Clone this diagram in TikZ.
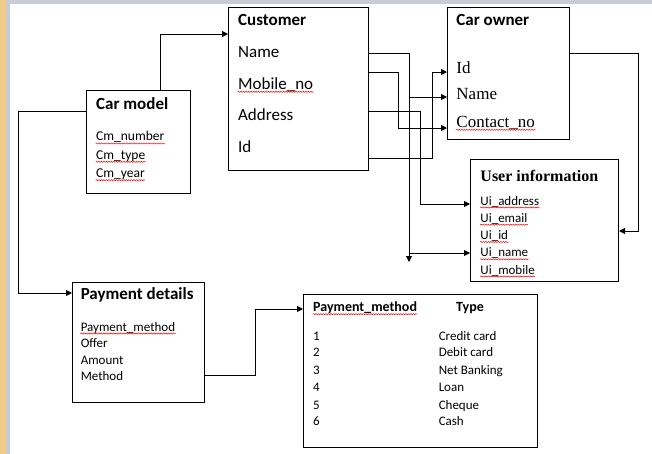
\documentclass[tikz,border=0pt]{standalone}
\usepackage{fontspec}
\setmainfont{Carlito}
\newfontfamily\serifface{Liberation Serif}
\usetikzlibrary{arrows.meta, decorations.pathmorphing}
\definecolor{sidebar}{RGB}{240,204,136}
\definecolor{framegray}{RGB}{200,204,212}

\begin{document}
\begin{tikzpicture}[x=1pt, y=-1pt, >={Triangle[length=6pt, width=6pt]}, line width=0.9pt,
    box/.style={draw, rectangle, anchor=north west, line width=1pt, inner sep=0pt},
    txt/.style={anchor=base west, inner sep=0pt, font=\fontsize{13}{15}\selectfont},
    big/.style={anchor=base west, inner sep=0pt, font=\fontsize{17}{20}\selectfont},
    head/.style={big, font=\fontsize{17}{20}\selectfont\bfseries},
    serif/.style={anchor=base west, inner sep=0pt, font=\serifface\fontsize{17}{20}\selectfont},
    spell/.style={red, line width=0.5pt, decorate, decoration={snake, amplitude=0.6pt, segment length=2.5pt}}]
            \useasboundingbox (0,0) rectangle (652,454);
            \fill[sidebar] (0,0) rectangle (6,454);
            \fill[framegray] (6,0) rectangle (10,454);
            \fill[framegray] (10,0) rectangle (652,4.3);

            % boxes
            \node[box, minimum width=104pt, minimum height=103pt] (carmodel) at (86,90) {};
            \node[box, minimum width=140pt, minimum height=163pt] (customer) at (228,7) {};
            \node[box, minimum width=122pt, minimum height=132pt] (carowner) at (447,7) {};
            \node[box, minimum width=148pt, minimum height=122pt] (userinfo) at (470,159) {};
            \node[box, minimum width=132pt, minimum height=120pt] (paydet) at (72,282) {};
            \node[box, minimum width=234pt, minimum height=153pt] (paytab) at (303,294) {};

            % car model
            \node[head] (cmt) at (95.7,110) {Car model};
            \node[txt, font=\fontsize{13.5}{16}\selectfont] (cm1) at (95.7,141) {Cm\_number};
            \node[txt, font=\fontsize{13.5}{16}\selectfont] (cm2) at (95.7,159.3) {Cm\_type};
            \node[txt, font=\fontsize{13.5}{16}\selectfont] (cm3) at (95.7,177.7) {Cm\_year};

            % customer
            \node[head] (cut) at (237.7,26) {Customer};
            \node[big] (cuname) at (237.7,57.3) {Name};
            \node[big] (cumob) at (237.7,89.3) {Mobile\_no};
            \node[big] (cuaddr) at (237.7,121) {Address};
            \node[big] (cuid) at (237.7,152.7) {Id};

            % car owner
            \node[head] (cot) at (456,26) {Car owner};
            \node[serif] (coid) at (456,73.3) {Id};
            \node[serif] (coname) at (456,100) {Name};
            \node[serif] (cocon) at (456,127.3) {Contact\_no};

            % user information
            \node[serif, font=\serifface\bfseries\fontsize{16}{19}\selectfont] (uit) at (480,181.7) {User information};
            \node[txt] (ui1) at (480,205) {Ui\_address};
            \node[txt] (ui2) at (480,222.2) {Ui\_email};
            \node[txt] (ui3) at (480,239.5) {Ui\_id};
            \node[txt] (ui4) at (480,256.8) {Ui\_name};
            \node[txt] (ui5) at (480,274) {Ui\_mobile};

            % payment details
            \node[head] (pdt) at (80.3,299.3) {Payment details};
            \node[txt] (pd1) at (80.3,331) {Payment\_method};
            \node[txt] (pd2) at (80.3,347.7) {Offer};
            \node[txt] (pd3) at (80.3,364.3) {Amount};
            \node[txt] (pd4) at (80.3,380.7) {Method};

            % payment method table
            \node[txt, font=\fontsize{14}{16}\selectfont\bfseries] (pth) at (312.7,311.7) {Payment\_method};
            \node[txt, font=\fontsize{14}{16}\selectfont\bfseries] (ptt) at (455.7,311.7) {Type};
            \node[txt] (pn1) at (312.7,340) {1};
            \node[txt] (pn2) at (312.7,356.9) {2};
            \node[txt] (pn3) at (312.7,374.3) {3};
            \node[txt] (pn4) at (312.7,391.7) {4};
            \node[txt] (pn5) at (312.7,409) {5};
            \node[txt] (pn6) at (312.7,425.7) {6};
            \node[txt] (pv1) at (438.3,340) {Credit card};
            \node[txt] (pv2) at (438.3,356.9) {Debit card};
            \node[txt] (pv3) at (438.3,374.3) {Net Banking};
            \node[txt] (pv4) at (438.3,391.7) {Loan};
            \node[txt] (pv5) at (438.3,409) {Cheque};
            \node[txt] (pv6) at (438.3,425.7) {Cash};

            % spelling marks
            \foreach \w in {cm1, cm2, cm3, cumob, cocon, ui1, ui2, ui3, ui4, ui5, pd1, pth}
                \draw[spell] ([yshift=-2.5pt]\w.base west) -- ([yshift=-2.5pt]\w.base east);

            % connectors
            \draw[->] ([xshift=74pt]carmodel.north west) |- ([yshift=-27pt]customer.north west);
            \draw[->] ([yshift=-21pt]carmodel.north west) -- ++(-68pt,0) |- ([yshift=-11pt]paydet.north west);
            \draw[->] ([yshift=-93pt]paydet.north east) -- ++(50pt,0) |- ([yshift=-15pt]paytab.north west);
            \draw[->] ([yshift=-46pt]customer.north east) -- ++(40pt,0) |- ([yshift=-90pt]carowner.north west);
            \draw[->] ([yshift=-65pt]customer.north east) -- ++(29pt,0) |- ([yshift=-121pt]carowner.north west);
            \draw[->] ([yshift=-104pt]customer.north east) -- ++(51pt,0) |- ([yshift=-45pt]userinfo.north west);
            \draw[->] ([yshift=-151pt]customer.north east) -- ++(63pt,0) |- ([yshift=-65pt]carowner.north west);
            \coordinate (j1) at (409,97);
            \coordinate (j2) at (409,253);
            \draw[->] (j1) -- ([yshift=-9pt]j2);
            \draw[->] (j2) -- (userinfo.west |- j2);
            \draw[->] ([yshift=-46pt]carowner.north east) -- ++(68pt,0) |- ([yshift=-72pt]userinfo.north east);
        \end{tikzpicture}
\end{document}
